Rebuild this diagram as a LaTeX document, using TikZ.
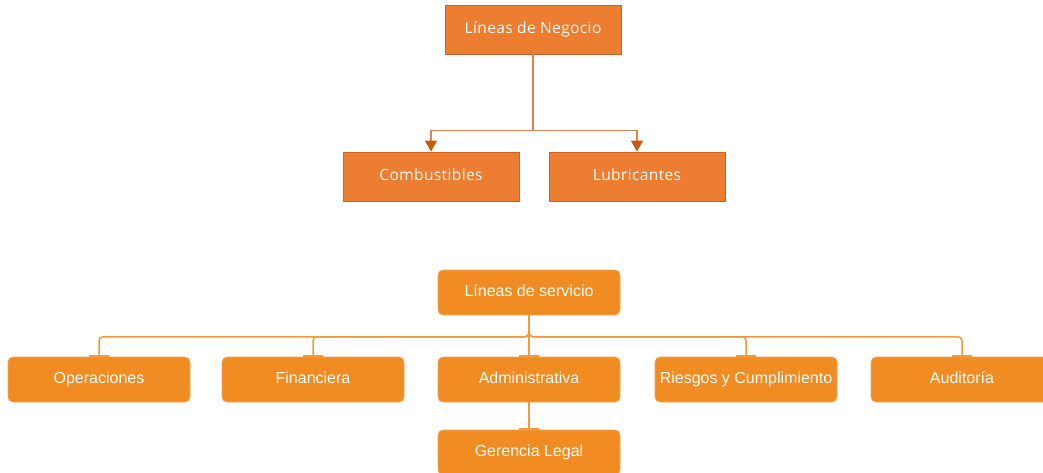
\documentclass[tikz,border=0pt]{standalone}
\usepackage{fontspec}
\setmainfont{Liberation Sans}
\newfontfamily\negociofont[LetterSpace=2.5]{Open Sans}
\usepackage{tikz}
\usetikzlibrary{arrows.meta}
\definecolor{negociofill}{HTML}{ED7D31}
\definecolor{negocioborde}{HTML}{C8642A}
\definecolor{flechacolor}{HTML}{C55A11}
\definecolor{lineacolor}{HTML}{D9874F}
\definecolor{serviciofill}{HTML}{F08C22}
\definecolor{servicioborde}{HTML}{F4A552}
\definecolor{ramacolor}{HTML}{F29A3C}
\tikzstyle{negocio} = [rectangle, minimum width=176pt, minimum height=49pt, text centered, text height=11.5pt, text depth=3.5pt, draw=negocioborde, line width=0.8pt, fill=negociofill, text=white, font=\negociofont\fontsize{15.5}{18}\selectfont]
\tikzstyle{servicio} = [rectangle, rounded corners=5pt, minimum width=182pt, minimum height=45pt, text centered, text height=11.5pt, text depth=3.5pt, draw=servicioborde, line width=0.6pt, fill=serviciofill, text=white, font=\fontsize{16}{19}\selectfont]
\tikzstyle{flecha} = [draw=lineacolor, line width=1.2pt, -{Triangle[width=12pt,length=11pt,color=flechacolor]}]
\tikzstyle{rama} = [draw=ramacolor, line width=1.5pt, rounded corners=4pt, -{Bar[width=20pt]}]

\begin{document}
\begin{tikzpicture}[x=1pt,y=-1pt]
\useasboundingbox (0,0) rectangle (1043,472);
% lineas de negocio
\node (neg) [negocio] at (533,29.5) {Líneas de Negocio};
\node (comb) [negocio] at (431,176.5) {Combustibles};
\node (lub) [negocio, right of=comb, node distance=206pt] {Lubricantes};

\draw [flecha] (neg.south) -- ++(0,76) -| (comb.north);
\draw [flecha] (neg.south) -- ++(0,76) -| (lub.north);

% lineas de servicio
\node (serv) [servicio] at (529,292.5) {Líneas de servicio};
\node (admin) [servicio] at (529,379.5) {Administrativa};
\node (fin) [servicio, left of=admin, node distance=216pt] {Financiera};
\node (oper) [servicio, left of=fin, node distance=214pt] {Operaciones};
\node (riesg) [servicio, right of=admin, node distance=217pt] {Riesgos y Cumplimiento};
\node (audit) [servicio, right of=riesg, node distance=216pt] {Auditoría};
\node (legal) [servicio, below of=admin, node distance=73pt] {Gerencia Legal};

\draw [rama] (serv.south) -- ++(0,21.5) -| (oper.north);
\draw [rama] (serv.south) -- ++(0,21.5) -| (fin.north);
\draw [rama] (serv.south) -- (admin.north);
\draw [rama] (serv.south) -- ++(0,21.5) -| (riesg.north);
\draw [rama] (serv.south) -- ++(0,21.5) -| (audit.north);
\draw [rama] (admin.south) -- (legal.north);
\end{tikzpicture}
\end{document}
